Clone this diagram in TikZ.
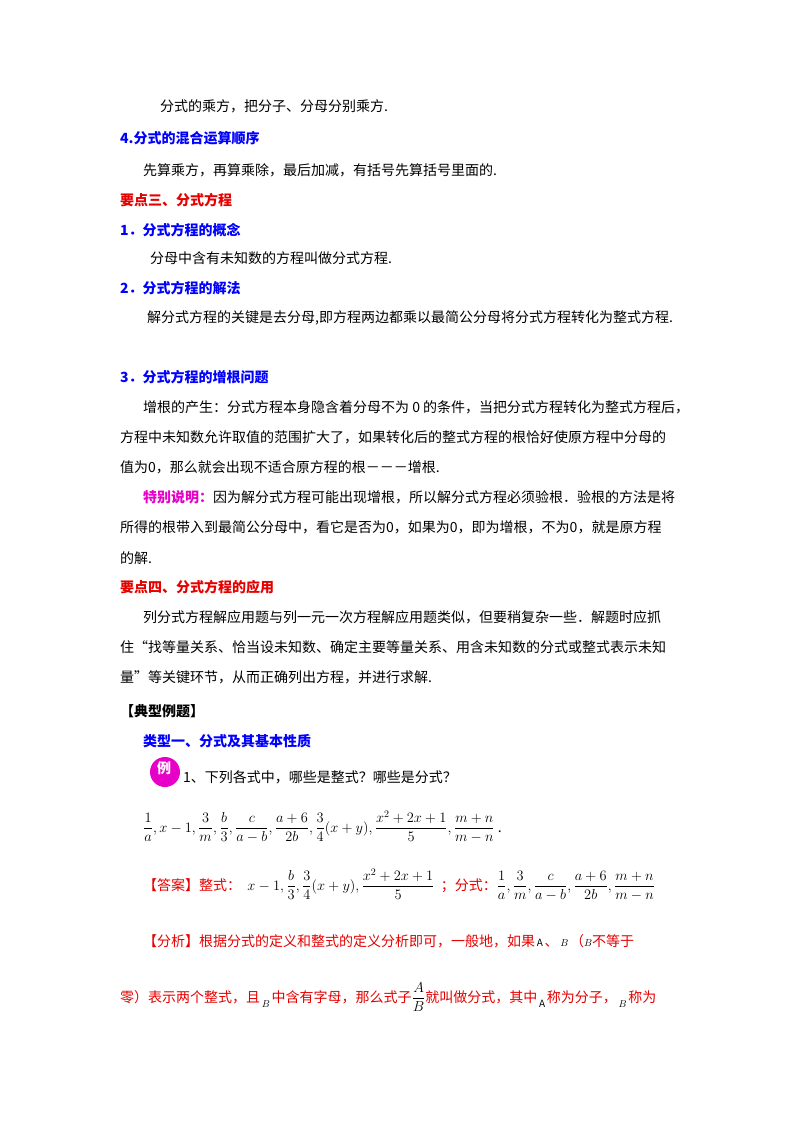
\documentclass[tikz,border=0pt]{standalone}
\usepackage{amsmath}
\usepackage{fontspec}
\setmainfont{Noto Sans CJK SC}
\definecolor{hblue}{RGB}{0,0,255}
\definecolor{hred}{RGB}{230,0,0}
\definecolor{hmag}{RGB}{230,0,200}
\tikzset{ln/.style={anchor=base west,inner sep=0pt,font=\fontsize{14}{17}\selectfont}}
\begin{document}
\begin{tikzpicture}[x=1pt,y=-1pt]
\useasboundingbox[fill=white] (0,0) rectangle (800,1132);
\node[ln] (l1) at (160,111) {分式的乘方，把分子、分母分别乘方.};
\node[ln,text=hblue] (l2) at (120,143) {\bfseries 4.分式的混合运算顺序};
\node[ln] (l3) at (143,175) {先算乘方，再算乘除，最后加减，有括号先算括号里面的.};
\node[ln,text=hred] (l4) at (120,205) {\bfseries 要点三、分式方程};
\node[ln,text=hblue] (l5) at (120,235) {\bfseries 1．分式方程的概念};
\node[ln] (l6) at (150,263) {分母中含有未知数的方程叫做分式方程.};
\node[ln,text=hblue] (l7) at (120,293) {\bfseries 2．分式方程的解法};
\node[ln] (l8) at (147,322) {解分式方程的关键是去分母,即方程两边都乘以最简公分母将分式方程转化为整式方程.};
\node[ln,text=hblue] (l9) at (120,382) {\bfseries 3．分式方程的增根问题};
\node[ln] (l10) at (143,412) {增根的产生：分式方程本身隐含着分母不为 0 的条件，当把分式方程转化为整式方程后，};
\node[ln] (l11) at (120,442) {方程中未知数允许取值的范围扩大了，如果转化后的整式方程的根恰好使原方程中分母的};
\node[ln] (l12) at (120,472) {值为0，那么就会出现不适合原方程的根－－－增根.};
\node[ln] (l13) at (143,502) {\textcolor{hmag}{\bfseries 特别说明：}因为解分式方程可能出现增根，所以解分式方程必须验根．验根的方法是将};
\node[ln] (l14) at (120,532) {所得的根带入到最简公分母中，看它是否为0，如果为0，即为增根，不为0，就是原方程};
\node[ln] (l15) at (120,563) {的解.};
\node[ln,text=hred] (l16) at (120,592) {\bfseries 要点四、分式方程的应用};
\node[ln] (l17) at (143,622) {列分式方程解应用题与列一元一次方程解应用题类似，但要稍复杂一些．解题时应抓};
\node[ln] (l18) at (120,652) {住“找等量关系、恰当设未知数、确定主要等量关系、用含未知数的分式或整式表示未知};
\node[ln] (l19) at (120,682) {量”等关键环节，从而正确列出方程，并进行求解.};
\node[ln] (l20) at (120,716) {\bfseries 【典型例题】};
\node[ln,text=hblue] (l21) at (143,746) {\bfseries 类型一、分式及其基本性质};
\fill[hmag] (165,772) circle (15);
\node[text=white,font=\fontsize{14}{17}\selectfont\bfseries,inner sep=0pt] (ic) at (164,768) {例};
\node[ln] (l22) at (183,782) {1、下列各式中，哪些是整式？哪些是分式？};
\node[ln] (m1) at (143,832) {$\displaystyle\frac{1}{a},x-1,\frac{3}{m},\frac{b}{3},\frac{c}{a-b},\frac{a+6}{2b},\frac{3}{4}(x+y),\frac{x^2+2x+1}{5},\frac{m+n}{m-n}$\ .};
\node[ln] (m2) at (143,890) {\textcolor{hred}{【答案】整式：}\ \ $\displaystyle x-1,\frac{b}{3},\frac{3}{4}(x+y),\frac{x^2+2x+1}{5}$\ \ \textcolor{hred}{；分式：}$\displaystyle\frac{1}{a},\frac{3}{m},\frac{c}{a-b},\frac{a+6}{2b},\frac{m+n}{m-n}$};
\node[ln,text=hred] (m3) at (143,946) {【分析】根据分式的定义和整式的定义分析即可，一般地，如果{\color{black}\fontsize{10}{12}\selectfont\,$\mathrm{A}$\,}、{\color{black}\fontsize{10}{12}\selectfont\,$B$\,}（{\color{black}\fontsize{10}{12}\selectfont$B$}不等于};
\node[ln,text=hred] (m4) at (120,1002) {零）表示两个整式，且{\color{black}\fontsize{10}{12}\selectfont\raisebox{-5pt}{\,$B$\,}}中含有字母，那么式子{\color{black}$\displaystyle\frac{A}{B}$}就叫做分式，其中{\color{black}\fontsize{10}{12}\selectfont\raisebox{-5pt}{\,$\mathrm{A}$\,}}称为分子，{\color{black}\fontsize{10}{12}\selectfont\raisebox{-5pt}{\,$B$\,}}称为};
\end{tikzpicture}
\end{document}
